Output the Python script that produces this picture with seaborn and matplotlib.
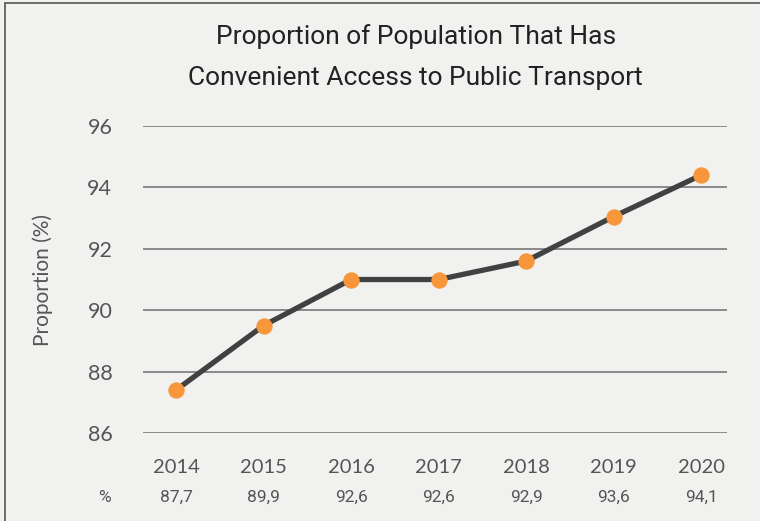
import matplotlib
matplotlib.use('Agg')
import matplotlib.pyplot as plt
import seaborn as sns
import pandas as pd
from matplotlib.lines import Line2D

years = [2014, 2015, 2016, 2017, 2018, 2019, 2020]
plotted = [87.4, 89.5, 91.0, 91.0, 91.6, 93.05, 94.4]
value_labels = ['87,7', '89,9', '92,6', '92,6', '92,9', '93,6', '94,1']
y_ticks = [86, 88, 90, 92, 94, 96]

df = pd.DataFrame({'year': years, 'proportion': plotted})

bg = '#f1f1f0'
sns.set_theme(style='white', rc={'axes.facecolor': bg, 'figure.facecolor': bg})
plt.rcParams['font.family'] = ['Lato', 'DejaVu Sans']

fig = plt.figure(figsize=(7.6, 5.21), dpi=100)
ax = fig.add_axes([0.188, 0.169, 0.769, 0.589])

sns.lineplot(data=df, x='year', y='proportion', ax=ax, color='#404242',
             linewidth=3.8, marker='o', markersize=11,
             markerfacecolor='#f7963a', markeredgecolor='#f7963a', zorder=3)

ax.set_ylim(86, 96)
ax.set_xlim(years[0] - 0.38, years[-1] + 0.3)
ax.set_yticks(y_ticks)
ax.set_yticklabels([str(t) for t in y_ticks], fontsize=15.5, color='#555555')
ax.set_xticks(years)
ax.set_xticklabels([str(y) for y in years], fontsize=14.5, color='#555555')
ax.tick_params(axis='y', pad=22, length=0)
ax.tick_params(axis='x', pad=19, length=0)
for y in y_ticks:
    ax.axhline(y, color='#8a8a8a', linewidth=1.4, zorder=1)
for s in ax.spines.values():
    s.set_visible(False)

ax.set_xlabel('')
ax.set_ylabel('Proportion (%)', fontsize=15, color='#555555', labelpad=25)

# row of values below the years
trans = ax.get_xaxis_transform()
for yr, lab in zip(years, value_labels):
    ax.text(yr, -0.21, lab, transform=trans, ha='center', va='center',
            fontsize=12.5, color='#555555', family=['Roboto', 'DejaVu Sans'])
ax.text(years[0] - 0.825, -0.21, '%', transform=trans, ha='center', va='center',
        fontsize=12.5, color='#555555', family=['Roboto', 'DejaVu Sans'])

fig.text(0.547, 0.93, 'Proportion of Population That Has', ha='center', va='center',
         fontsize=19, color='#222222', family=['Roboto', 'DejaVu Sans'])
fig.text(0.547, 0.85, 'Convenient Access to Public Transport', ha='center', va='center',
         fontsize=19, color='#222222', family=['Roboto', 'DejaVu Sans'])

# frame on left and top
fig.add_artist(Line2D([0.006, 0.006], [0, 0.994], transform=fig.transFigure,
                      color='#555555', linewidth=1.2))
fig.add_artist(Line2D([0.006, 1], [0.994, 0.994], transform=fig.transFigure,
                      color='#555555', linewidth=1.2))

fig.savefig('out.png', dpi=100)
